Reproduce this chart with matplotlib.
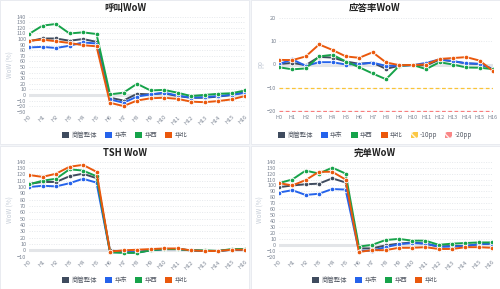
import numpy as np
import matplotlib
matplotlib.use('Agg')
import matplotlib.pyplot as plt
from matplotlib.patches import Patch

plt.rcParams['font.family'] = ['Noto Sans CJK SC', 'DejaVu Sans']

hours = ['H%d' % i for i in range(17)]
series_names = ['商管整体', '华东', '华西', '华北']
colors = ['#3f4b5e', '#2563eb', '#16a34a', '#ea580c']

call_total = [96, 101, 101, 97, 100, 95, -5, -10, 2, 1, 3, -2, -5, -5, -3, 0, 5]
call_east = [85, 86, 84, 88, 94, 92, -8, -14, -3, 1, 4, -1, -5, -4, -2, 0, 4]
call_west = [109, 124, 127, 110, 112, 109, 1, 4, 20, 8, 9, 4, -2, 0, 2, 3, 8]
call_north = [97, 99, 96, 93, 89, 87, -14, -20, -10, -6, -5, -7, -12, -13, -11, -8, -2]

ans_total = [0.2, 0.7, -0.3, 3.3, 3.0, 1.3, 0.3, 0.8, -1.9, -0.5, -0.2, -0.4, 2.1, 1.4, 0.5, 0.2, -2.0]
ans_east = [0.2, 2.2, -0.6, 1.0, 1.0, 0.0, 0.2, 0.8, -0.6, -0.5, -0.3, 0.7, 2.2, 1.5, 0.5, 0.3, -2.0]
ans_west = [-1.2, -2.1, -1.7, 3.5, 4.2, 1.3, -1.2, -3.9, -6.4, -0.5, -0.2, -2.0, 1.0, 0.0, -1.3, -1.4, -2.0]
ans_north = [2.0, 1.9, 3.5, 8.7, 6.3, 3.5, 2.9, 5.3, 0.9, -0.3, -0.2, 0.0, 2.4, 2.8, 3.2, 1.7, -2.8]

tsh_total = [105, 108, 108, 117, 121, 114, 0, -3, -3, 0, 2, 2, 0, -1, -1, 1, 1]
tsh_east = [100, 102, 101, 106, 113, 107, -3, -3, -3, 0, 2, 2, 0, -1, -1, 1, 1]
tsh_west = [104, 110, 113, 128, 126, 117, -3, -4, -4, 0, 2, 2, 0, 0, -1, 2, 2]
tsh_north = [119, 116, 121, 132, 135, 124, -2, 0, 1, 2, 3, 3, 0, -1, -1, 1, 1]

done_total = [97, 100, 102, 103, 112, 105, -6, -6, -1, 2, 4, 2, -3, -2, -2, 1, 2]
done_east = [88, 92, 84, 86, 94, 93, -10, -10, -4, 1, 3, 2, -3, -3, -2, 1, 2]
done_west = [104, 110, 125, 120, 130, 120, -3, 0, 8, 10, 7, 7, 0, 2, 3, 4, 4]
done_north = [104, 100, 109, 123, 123, 110, -12, -9, -9, -5, -5, -4, -7, -7, -4, -4, -5]

ref_lines = [-10, -20]
ref_names = ['-10pp', '-20pp']
ref_colors = ['#fbbf24', '#f87171']

W, H = 500, 289
fig = plt.figure(figsize=(W / 100, H / 100), dpi=100)
fig.patch.set_facecolor('#f3f5f8')

# white cards
for (cx, cy, cw, ch) in [(0, 0, 249, 144), (251, 0, 249, 144), (0, 146, 249, 143), (251, 146, 249, 143)]:
    fig.add_artist(plt.Rectangle((cx / W, 1 - (cy + ch) / H), cw / W, ch / H,
                                 transform=fig.transFigure, facecolor='white',
                                 edgecolor='#e6e9ef', lw=0.6, zorder=0))


def make_ax(x0, y0, x1, y1):
    return fig.add_axes([x0 / W, 1 - y1 / H, (x1 - x0) / W, (y1 - y0) / H])


def panel(ax, title, data, ymin, ymax, step, ylabel, rotate, title_y, legend_y, cx, refs=False, pad=0):
    x = np.arange(len(hours))
    ax.axhline(0, color='#e3e5e8', lw=2.2, zorder=1)
    for vals, c in zip(data, colors):
        ax.plot(x, vals, color=c, lw=1.4, marker='o', ms=3.3, mfc=c, mec='white', mew=0.6, zorder=3)
    if refs:
        for v, c in zip(ref_lines, ref_colors):
            ax.axhline(v, color=c, lw=0.9, ls=(0, (3, 2)), alpha=0.9, zorder=2)
    ax.set_xlim(0, len(hours) - 1)
    ax.set_ylim(ymin - pad, ymax + pad)
    ax.set_yticks(np.arange(ymin, ymax + 1, step))
    ax.set_xticks(x)
    if rotate:
        ax.set_xticklabels(hours, rotation=45, ha='right', rotation_mode='anchor')
    else:
        ax.set_xticklabels(hours)
    ax.tick_params(axis='both', labelsize=4.0, colors='#7a8392', length=0, pad=2)
    ax.yaxis.grid(True, color='#dde1e6', lw=0.5, ls=(0, (1.5, 2)))
    ax.set_axisbelow(True)
    for s in ax.spines.values():
        s.set_visible(False)
    ax.set_ylabel(ylabel, fontsize=4.6, color='#c3cbd6', labelpad=2)
    fig.text(cx / W, 1 - title_y / H, title, ha='center', va='center', fontsize=6.8,
             fontweight='bold', color='#222222')
    handles = [Patch(facecolor=c, edgecolor='none', label=n) for c, n in zip(colors, series_names)]
    if refs:
        handles += [Patch(facecolor=c, edgecolor='white', hatch='xxx', label=n, lw=0.0, alpha=0.85)
                    for c, n in zip(ref_colors, ref_names)]
    fig.legend(handles=handles, loc='center', bbox_to_anchor=(cx / W, 1 - legend_y / H),
               ncol=len(handles), frameon=False, fontsize=4.6, handlelength=1.1, handleheight=1.1,
               handletextpad=0.4, columnspacing=1.2, labelcolor='#555b66')


ax1 = make_ax(29, 16.7, 245, 111.7)
panel(ax1, '呼叫WoW', [call_total, call_east, call_west, call_north], -30, 140, 10,
      'WoW (%)', True, 8, 135, 125)

ax2 = make_ax(279, 17, 493, 112)
panel(ax2, '应答率WoW', [ans_total, ans_east, ans_west, ans_north], -20, 20, 10,
      'pp', False, 8, 135, 375, refs=True, pad=0.6)

ax3 = make_ax(29, 161.7, 245, 256.7)
panel(ax3, 'TSH WoW', [tsh_total, tsh_east, tsh_west, tsh_north], -10, 140, 10,
      'WoW (%)', True, 153, 280, 125)

ax4 = make_ax(279, 161.7, 492, 256.7)
panel(ax4, '完单WoW', [done_total, done_east, done_west, done_north], -20, 140, 10,
      'WoW (%)', True, 153, 280, 375)

fig.savefig('out.png', dpi=100)
